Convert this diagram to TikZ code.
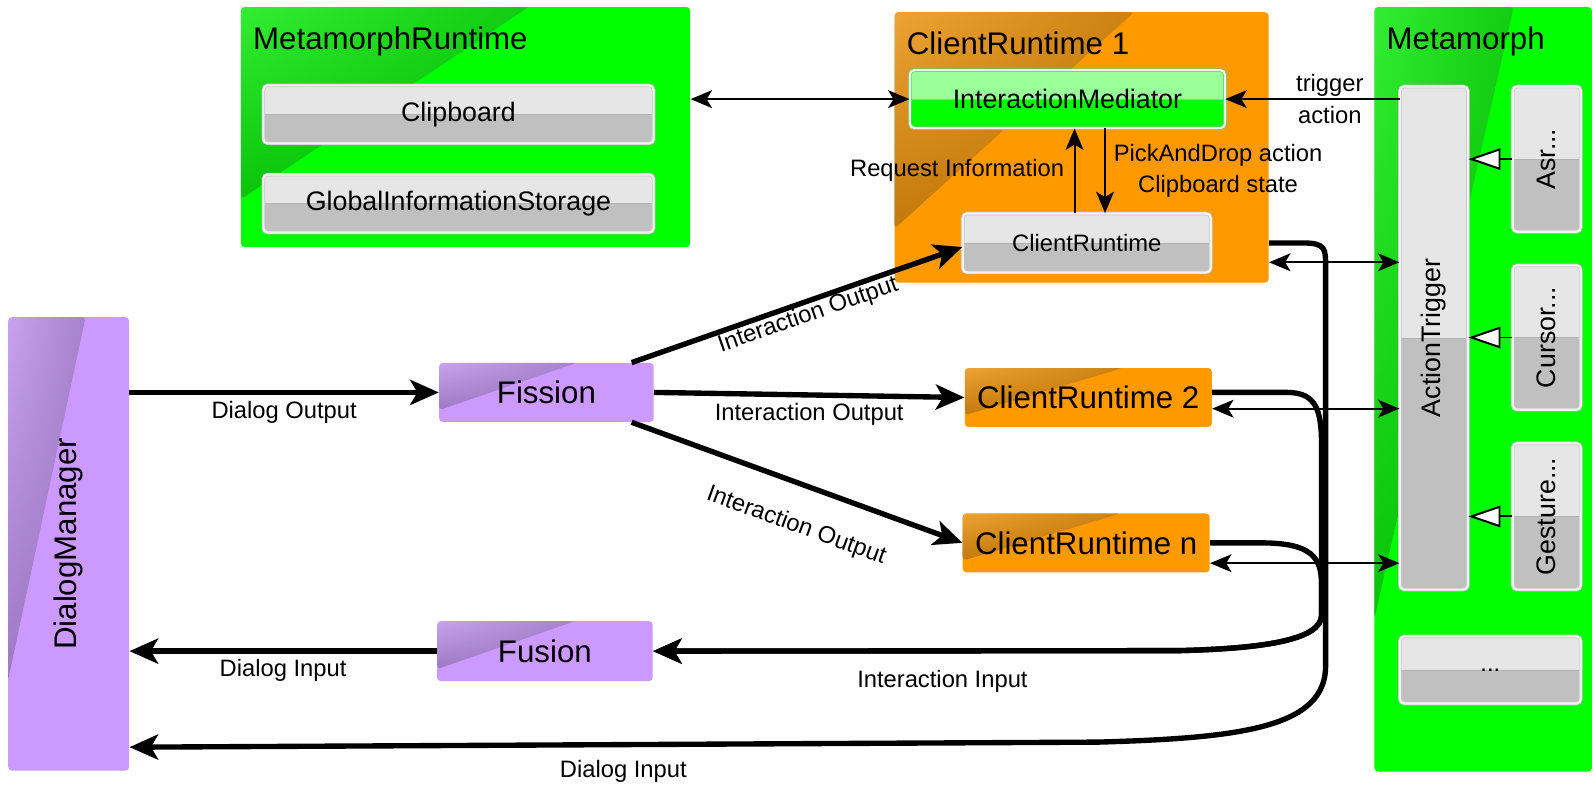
\documentclass[tikz,border=0pt]{standalone}
\usepackage{fontspec}
\setmainfont{Liberation Sans}
\usetikzlibrary{arrows.meta,calc,positioning,shadings}
\definecolor{cgreen}{HTML}{00FF00}
\definecolor{clgreen}{HTML}{99FF99}
\definecolor{corange}{HTML}{FF9900}
\definecolor{cpurple}{HTML}{CC99FF}
\definecolor{clight}{HTML}{E6E6E6}
\definecolor{cdark}{HTML}{C0C0C0}

\begin{document}
\begin{tikzpicture}[x=0.02cm,y=-0.02cm,
  big font/.style={font=\fontsize{17.5}{21}\selectfont},
  mid font/.style={font=\fontsize{15}{18}\selectfont},
  small font/.style={font=\fontsize{13.3}{17.5}\selectfont},
  sheen/.style={path picture={\shade[upper left=white!75!black,upper right=black,lower left=black,lower right=black,opacity=.27]
      (path picture bounding box.north west)
      -- ($(path picture bounding box.north west)!.64!(path picture bounding box.north east)$)
      -- ($(path picture bounding box.north west)!.8!(path picture bounding box.south west)$)
      -- cycle;}},
  box node/.style={rectangle,rounded corners=2pt,inner sep=0pt,sheen,big font},
  green group/.style={box node,fill=cgreen},
  orange node/.style={box node,fill=corange},
  purple node/.style={box node,fill=cpurple},
  group title/.style={anchor=base west,inner sep=0pt,big font},
  button/.style={rectangle,rounded corners=2.5pt,inner sep=0pt,mid font,
      draw=black!22,double=white!95!black,double distance=1.2pt,fill=clight,
      path picture={\fill[#1] (path picture bounding box.west) rectangle (path picture bounding box.south east);
        \draw[black!30] (path picture bounding box.west) -- (path picture bounding box.east);}},
  gray button/.style={button=cdark},
  green button/.style={button=cgreen,fill=clgreen,draw=cgreen!70!black!60},
  big arrow/.style={line width=3pt,-{Stealth[length=16pt,width=14pt,inset=4pt]}},
  small arrow/.style={line width=1.1pt,-{Stealth[length=12pt,width=10pt,inset=3pt]}},
  both arrow/.style={line width=1.1pt,{Stealth[length=12pt,width=10pt,inset=3pt]}-{Stealth[length=12pt,width=10pt,inset=3pt]}},
  sense arrow/.style={line width=1.1pt,-{Triangle[length=18pt,width=12pt,fill=white]}},
  edge label/.style={small font}]
  \useasboundingbox (0,0) rectangle (1568,772);

  % MetamorphRuntime
  \node[green group,minimum width=8.84cm,minimum height=4.72cm] (mr) at (458,125) {};
  \node[group title] (mr title) at ($(mr.north west)+(12,42)$) {MetamorphRuntime};
  \node[gray button,minimum width=7.68cm,minimum height=1.14cm] (clip) at (451,112.5) {Clipboard};
  \node[gray button,minimum width=7.68cm,minimum height=1.14cm,below=0.6cm of clip] (gis) {GlobalInformationStorage};

  % ClientRuntime 1
  \node[orange node,minimum width=7.36cm,minimum height=5.32cm] (cr1) at (1064,145) {};
  \node[group title] (cr1 title) at ($(cr1.north west)+(12,42)$) {ClientRuntime 1};
  \node[green button,minimum width=6.2cm,minimum height=1.14cm] (im) at (1050,97.5) {InteractionMediator};
  \node[gray button,small font,minimum width=4.88cm,minimum height=1.16cm] (ci) at (1069,239) {ClientRuntime};

  % Metamorph
  \node[green group,minimum width=4.28cm,minimum height=15.04cm] (mm) at (1459,383) {};
  \node[group title] (mm title) at ($(mm.north west)+(12,42)$) {Metamorph};
  \node[gray button,minimum width=1.34cm,minimum height=9.9cm] (at) at (1410.5,332.5) {\rotatebox{90}{ActionTrigger}};
  \node[gray button,minimum width=1.34cm,minimum height=2.86cm] (asr) at (1521.5,156.5) {\rotatebox{90}{Asr...}};
  \node[gray button,minimum width=1.34cm,minimum height=2.84cm] (cur) at (1521.5,332) {\rotatebox{90}{Cursor...}};
  \node[gray button,minimum width=1.34cm,minimum height=2.88cm] (ges) at (1521.5,508) {\rotatebox{90}{Gesture...}};
  \node[gray button,small font,minimum width=3.56cm,minimum height=1.32cm] (dots) at (1466,659) {...};

  % dialog side
  \node[purple node,minimum width=2.38cm,minimum height=8.92cm] (dm) at (67.5,535) {\rotatebox{90}{DialogManager}};
  \node[purple node,minimum width=4.22cm,minimum height=1.16cm] (fis) at (537.5,386) {Fission};
  \node[purple node,minimum width=4.24cm,minimum height=1.18cm] (fus) at (536,640.5) {Fusion};
  \node[orange node,minimum width=4.86cm,minimum height=1.16cm] (cr2) at (1070.5,391) {ClientRuntime 2};
  \node[orange node,minimum width=4.86cm,minimum height=1.16cm] (crn) at (1068.5,534) {ClientRuntime n};

  % thin connectors
  \draw[both arrow] (mr.east |- im.west) -- (im.west);
  \draw[small arrow] (at.west |- im.east) -- node[pos=.4,align=center,edge label]{trigger\\action} (im.east);
  \draw[small arrow] (ci.north -| 1057,0) -- node[midway,left=2pt,edge label]{Request Information} (im.south -| 1057,0);
  \draw[small arrow] (im.south -| 1087,0) -- node[midway,right=1pt,align=center,edge label]{PickAndDrop action\\Clipboard state} (ci.north -| 1087,0);
  \draw[both arrow] (cr1.east |- 0,258) -- (at.west |- 0,258);
  \draw[both arrow] (cr2.east |- 0,402) -- (at.west |- 0,402);
  \draw[both arrow] (crn.east |- 0,554) -- (at.west |- 0,554);
  \draw[sense arrow] (asr.west) -- (at.east |- asr.west);
  \draw[sense arrow] (cur.west) -- (at.east |- cur.west);
  \draw[sense arrow] (ges.west) -- (at.east |- ges.west);

  % thick connectors
  \draw[big arrow] (dm.east |- fis.west) -- node[below,edge label]{Dialog Output} (fis.west);
  \draw[big arrow] ($(fis.north east)+(-22,0)$) -- node[pos=.52,sloped,below,inner sep=0pt,edge label]{Interaction Output} ($(ci.west)+(0,4)$);
  \draw[big arrow] (fis.east) -- node[below,edge label]{Interaction Output} (cr2.west);
  \draw[big arrow] ($(fis.south east)+(-22,0)$) -- node[pos=.54,sloped,below=12pt,edge label]{Interaction Output} (crn.west);
  \draw[big arrow] (fus.west) -- node[below,edge label]{Dialog Input} (dm.east |- fus.west);
  \draw[big arrow] (cr1.east |- ci.east) -- (1282,239) .. controls (1304,239) and (1304,245) .. (1304,262)
     -- (1304,655) .. controls (1304,716) and (1220,726) .. (1080,730)
     -- node[pos=.49,below=4pt,edge label]{Dialog Input} (dm.east |- 0,735);
  \draw[big arrow] ($(cr2.east)+(0,-5)$) -- (1266,386) .. controls (1296,386) and (1300,405) .. (1300,440)
     -- (1300,605) .. controls (1300,630) and (1240,638) .. (1160,640)
     -- node[pos=.45,below=6pt,edge label]{Interaction Input} (fus.east);
  \draw[big arrow] (crn.east) -- (1240,534) .. controls (1290,534) and (1300,548) .. (1300,575)
     -- (1300,605) .. controls (1300,630) and (1240,638) .. (1160,640) -- (fus.east);
\end{tikzpicture}
\end{document}
